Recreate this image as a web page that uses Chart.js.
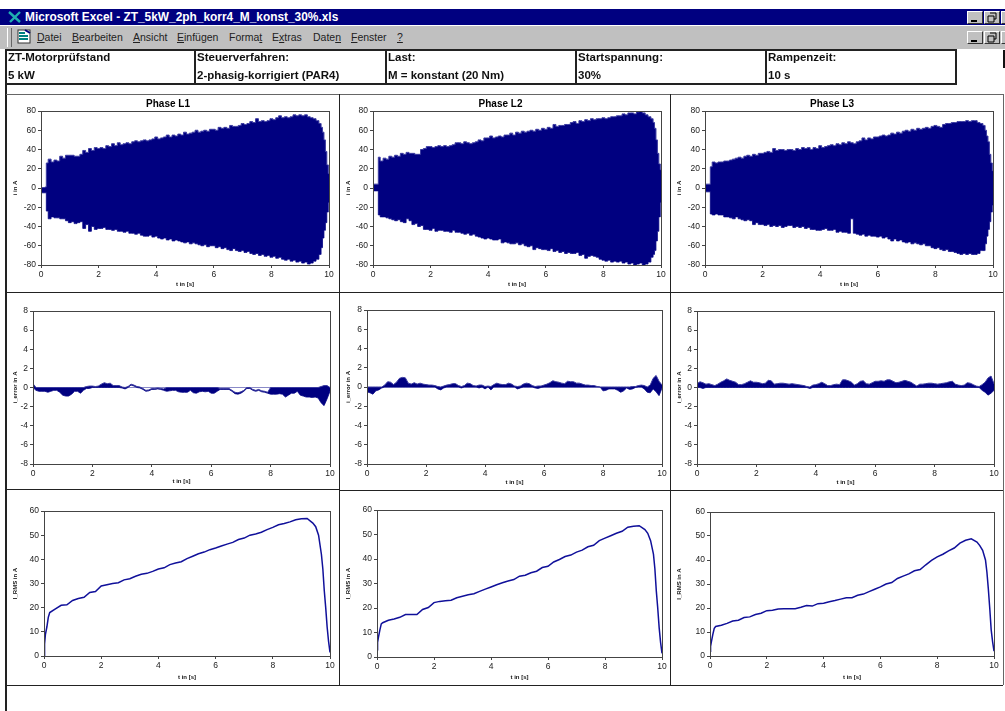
<!DOCTYPE html>
<html lang="de">
<head>
<meta charset="utf-8">
<title>ZT_5kW_2ph_korr4_M_konst_30%</title>
<script src="https://cdn.jsdelivr.net/npm/chart.js@4/dist/chart.umd.min.js"></script>
<style>
  html, body { margin:0; padding:0; background:#fff; width:1005px; height:711px; overflow:hidden; }
  #page { position:absolute; left:0; top:0; width:1005px; height:711px; overflow:hidden; font-family:"Liberation Sans", Arial, sans-serif; filter:blur(0.35px); }
  #page > * { position:absolute; }
  #titlebar { left:0; top:9px; width:1005px; height:16px; background:#000080; color:#fff; font-weight:bold; font-size:11.9px; line-height:16px; white-space:nowrap; }
  #titlebar span { position:absolute; left:25px; top:0; }
  #menubar { left:0; top:26px; width:1005px; height:23px; background:#c0c0c0; }
  #menubar span { position:absolute; top:5px; font-size:10.5px; line-height:13px; color:#222; }
  .grip { left:7px; top:28px; width:3px; height:19px; border-left:1px solid #fff; border-right:1px solid #666; }
  .btn { width:16px; height:13px; background:#c0c0c0; border:1px solid; border-color:#fff #333 #333 #fff; box-sizing:border-box; }
  .btn svg { position:absolute; left:0; top:0; }
  .cell { top:49px; height:36px; border:2px solid #222; border-left-width:1px; box-sizing:border-box; background:#fff; font-weight:bold; font-size:11.5px; color:#111; white-space:nowrap; }
  .cell div { position:absolute; left:1px; }
  .cell .a { top:0; }
  .cell .b { top:18px; }
  .ln { background:#222; }
  canvas { position:absolute; display:block; }
</style>
</head>
<body>
<div id="page">
  <div id="titlebar">
    <svg width="18" height="16" style="position:absolute;left:7px;top:0"><path d="M2 3 L13 13 M13 3 L3 13" stroke="#20b0b0" stroke-width="2.4"/></svg>
    <span>Microsoft Excel - ZT_5kW_2ph_korr4_M_konst_30%.xls</span>
  </div>
  <div class="btn" style="left:967px;top:11px"><svg width="14" height="11"><path d="M3 9h6" stroke="#000" stroke-width="2"/></svg></div>
  <div class="btn" style="left:984px;top:11px"><svg width="14" height="11"><path d="M5 1h6v6h-2M3 4h6v6h-6z" fill="none" stroke="#000"/></svg></div>
  <div class="btn" style="left:1001px;top:11px"></div>
  <div id="menubar">
    <svg width="18" height="18" style="position:absolute;left:16px;top:2px"><rect x="2" y="2" width="12" height="13" fill="#fff" stroke="#333"/><path d="M3 5h6M3 8h9M3 11h9" stroke="#008080" stroke-width="2"/><path d="M9 2l5 3" stroke="#000080" stroke-width="2"/></svg>
    <span style="left:37px"><u>D</u>atei</span>
    <span style="left:72px"><u>B</u>earbeiten</span>
    <span style="left:133px"><u>A</u>nsicht</span>
    <span style="left:177px"><u>E</u>inf&uuml;gen</span>
    <span style="left:229px">Forma<u>t</u></span>
    <span style="left:272px">E<u>x</u>tras</span>
    <span style="left:313px">Date<u>n</u></span>
    <span style="left:351px"><u>F</u>enster</span>
    <span style="left:397px"><u>?</u></span>
  </div>
  <div class="grip"></div>
  <div class="btn" style="left:967px;top:31px"><svg width="14" height="11"><path d="M3 9h6" stroke="#000" stroke-width="2"/></svg></div>
  <div class="btn" style="left:984px;top:31px"><svg width="14" height="11"><path d="M5 1h6v6h-2M3 4h6v6h-6z" fill="none" stroke="#000"/></svg></div>
  <div class="btn" style="left:1001px;top:31px"></div>

  <div class="cell" style="left:6px;width:190px"><div class="a">ZT-Motorpr&uuml;fstand</div><div class="b">5 kW</div></div>
  <div class="cell" style="left:195px;width:192px"><div class="a">Steuerverfahren:</div><div class="b">2-phasig-korrigiert (PAR4)</div></div>
  <div class="cell" style="left:386px;width:191px"><div class="a">Last:</div><div class="b">M = konstant (20 Nm)</div></div>
  <div class="cell" style="left:576px;width:191px"><div class="a">Startspannung:</div><div class="b">30%</div></div>
  <div class="cell" style="left:766px;width:191px"><div class="a">Rampenzeit:</div><div class="b">10 s</div></div>
  <div style="left:1003px;top:50px;width:2px;height:18px;background:#111"></div>

  <div class="ln" style="left:5px;top:49px;width:2px;height:662px"></div>
  <div class="ln" style="left:6px;top:94px;width:997px;height:1px;background:#666"></div>
  <div class="ln" style="left:6px;top:292px;width:997px;height:1px"></div>
  <div class="ln" style="left:6px;top:489px;width:334px;height:1px"></div>
  <div class="ln" style="left:339px;top:490px;width:664px;height:1px"></div>
  <div class="ln" style="left:6px;top:685px;width:997px;height:1px"></div>
  <div class="ln" style="left:339px;top:94px;width:1px;height:591px"></div>
  <div class="ln" style="left:670px;top:94px;width:1px;height:591px"></div>
  <div class="ln" style="left:1003px;top:94px;width:1px;height:591px;background:#666"></div>
</div>

<script>
// Envelope of the phase currents
const timeBand = [
  0, 0.1, 0.17,
  0.2, 0.3, 0.4, 0.5, 0.6, 0.7, 0.8, 0.9,
  1.0, 1.1, 1.2, 1.3, 1.4, 1.5, 1.6, 1.7, 1.8, 1.9,
  2.0, 2.1, 2.2, 2.3, 2.4, 2.5, 2.6, 2.7, 2.8, 2.9,
  3.0, 3.1, 3.2, 3.3, 3.4, 3.5, 3.6, 3.7, 3.8, 3.9,
  4.0, 4.1, 4.2, 4.3, 4.4, 4.5, 4.6, 4.7, 4.8, 4.9,
  5.0, 5.1, 5.2, 5.3, 5.4, 5.5, 5.6, 5.7, 5.8, 5.9,
  6.0, 6.1, 6.2, 6.3, 6.4, 6.5, 6.6, 6.7, 6.8, 6.9,
  7.0, 7.1, 7.2, 7.3, 7.4, 7.5, 7.6, 7.7, 7.8, 7.9,
  8.0, 8.1, 8.2, 8.3, 8.4, 8.5, 8.6, 8.7, 8.8, 8.9,
  9.0, 9.1, 9.2, 9.3, 9.4, 9.5, 9.6, 9.7,
  9.75, 9.8, 9.85, 9.9, 9.95, 10
];
const l1Upper = [
  0.5, 0.5, 1,
  26, 30, 27, 29, 28, 33, 31, 34,
  34, 34, 33, 33, 35, 39, 37, 41, 39, 42,
  41, 42, 41, 44, 43, 46, 44, 47, 45, 46,
  47, 46, 48, 49, 48, 49, 50, 49, 50, 51,
  53, 51, 52, 53, 55, 53, 55, 54, 56, 55,
  58, 56, 57, 58, 60, 58, 59, 60, 59, 61,
  61, 60, 63, 62, 63, 62, 65, 64, 64, 65,
  67, 66, 67, 69, 68, 72, 69, 70, 69, 70,
  72, 71, 73, 75, 73, 74, 73, 74, 76, 75,
  76, 75, 76, 74, 73, 72, 70, 67,
  63, 58, 50, 38, 24, 15
];
const l1Lower = [
  -5, -5, -5,
  -24, -32, -30, -31, -31, -32, -32, -34,
  -36, -35, -37, -36, -35, -42, -38, -45, -40, -43,
  -42, -42, -41, -43, -43, -44, -43, -45, -45, -46,
  -45, -47, -47, -48, -47, -49, -50, -50, -49, -51,
  -50, -52, -53, -52, -54, -53, -55, -54, -55, -56,
  -57, -56, -58, -57, -58, -59, -60, -59, -61, -60,
  -60, -62, -61, -63, -62, -64, -65, -63, -65, -66,
  -65, -67, -66, -68, -69, -68, -70, -69, -71, -70,
  -72, -71, -73, -72, -74, -75, -74, -76, -75, -77,
  -76, -78, -77, -79, -78, -76, -74, -69,
  -62, -52, -44, -36, -25, -15
];
const l2Upper = [
  4, 4, 4,
  32, 28, 31, 30, 33, 32, 34, 33,
  36, 35, 37, 36, 36, 35, 35, 40, 41, 43,
  43, 42, 43, 44, 43, 44, 43, 44, 45, 47,
  47, 46, 48, 47, 46, 47, 48, 50, 49, 52,
  52, 54, 52, 53, 54, 53, 55, 55, 57, 55,
  58, 57, 59, 58, 59, 60, 59, 61, 60, 62,
  61, 63, 62, 66, 64, 65, 65, 66, 66, 68,
  69, 67, 70, 69, 71, 70, 72, 71, 72, 72,
  73, 72, 73, 74, 74, 75, 75, 77, 76, 78,
  78, 77, 79, 80, 78, 76, 74, 72,
  68, 62, 50, 36, 25, 19
];
const l2Lower = [
  -3, -3, -3,
  -28, -30, -30, -31, -32, -33, -34, -33,
  -35, -36, -32, -34, -38, -37, -40, -39, -43, -43,
  -44, -42, -45, -44, -44, -45, -45, -46, -44, -46,
  -46, -47, -48, -47, -49, -48, -50, -51, -52, -53,
  -52, -53, -54, -54, -53, -57, -56, -57, -58, -58,
  -57, -59, -58, -60, -61, -60, -64, -62, -63, -64,
  -64, -65, -63, -66, -65, -67, -66, -68, -67, -68,
  -68, -67, -70, -69, -73, -71, -70, -71, -72, -74,
  -75, -76, -75, -77, -76, -77, -76, -78, -77, -79,
  -78, -80, -79, -78, -80, -79, -77, -72,
  -69, -65, -55, -45, -30, -15
];
const l3Upper = [
  4, 4, 4,
  22, 27, 26, 27, 27, 28, 28, 29,
  30, 31, 32, 31, 33, 34, 33, 35, 34, 36,
  36, 37, 38, 37, 41, 39, 40, 40, 39, 40,
  40, 39, 41, 40, 42, 41, 42, 40, 42, 41,
  44, 42, 43, 44, 45, 44, 46, 45, 47, 46,
  48, 47, 46, 48, 49, 52, 50, 52, 51, 53,
  53, 54, 55, 54, 55, 57, 56, 58, 57, 59,
  60, 59, 61, 60, 62, 61, 62, 63, 62, 64,
  65, 64, 63, 66, 67, 67, 68, 68, 69, 69,
  69, 70, 69, 70, 70, 68, 67, 65,
  60, 54, 48, 35, 26, 18
];
const l3Lower = [
  -4, -4, -4,
  -27, -28, -27, -28, -28, -30, -30, -31,
  -32, -30, -32, -33, -34, -33, -34, -38, -36, -38,
  -38, -39, -38, -40, -39, -40, -39, -41, -40, -39,
  -39, -41, -40, -41, -40, -42, -41, -43, -43, -44,
  -44, -43, -42, -44, -44, -43, -46, -45, -46, -46,
  -47, -32, -47, -48, -49, -48, -50, -49, -50, -50,
  -51, -50, -52, -51, -53, -55, -53, -55, -54, -56,
  -57, -56, -58, -57, -58, -59, -58, -60, -60, -62,
  -63, -62, -64, -65, -64, -66, -66, -67, -68, -69,
  -68, -69, -68, -69, -69, -68, -65, -65,
  -58, -50, -43, -35, -25, -18
];

// Middle row, band around zero
const timeMid = [
  0, 0.1, 0.2, 0.3, 0.4, 0.5, 0.6, 0.7, 0.8, 0.9,
  1.0, 1.1, 1.2, 1.3, 1.4, 1.5, 1.6, 1.7, 1.8, 1.9,
  2.0, 2.1, 2.2, 2.3, 2.4, 2.5, 2.6, 2.7, 2.8, 2.9,
  3.0, 3.1, 3.2, 3.3, 3.4, 3.5, 3.6, 3.7, 3.8, 3.9,
  4.0, 4.1, 4.2, 4.3, 4.4, 4.5, 4.6, 4.7, 4.8, 4.9,
  5.0, 5.1, 5.2, 5.3, 5.4, 5.5, 5.6, 5.7, 5.8, 5.9,
  6.0, 6.1, 6.2, 6.3, 6.4, 6.5, 6.6, 6.7, 6.8, 6.9,
  7.0, 7.1, 7.2, 7.3, 7.4, 7.5, 7.6, 7.7, 7.8, 7.9,
  8.0, 8.1, 8.2, 8.3, 8.4, 8.5, 8.6, 8.7, 8.8, 8.9,
  9.0, 9.1, 9.2, 9.3, 9.4, 9.5, 9.6, 9.7, 9.8, 9.9,
  10
];
const l1MidUpper = [
  0.4, 0, 0, 0, 0, 0, 0, 0, 0, 0,
  0, 0, 0, 0, 0, 0, 0, 0, 0.1, 0.15,
  0.15, 0.1, 0.15, 0.35, 0.5, 0.4, 0.45, 0.2, 0.2, 0.2,
  0.05, 0, 0.1, 0.35, 0.25, 0.1, 0.05, -0.1, -0.3, -0.25,
  -0.1, -0.1, -0.05, -0.1, -0.15, 0, 0, 0, 0, 0,
  0, 0, 0, 0, 0, 0, 0, 0, 0, 0,
  0, 0, 0, -0.1, -0.1, -0.1, -0.1, -0.3, -0.5, -0.55,
  -0.45, -0.3, 0, 0, -0.2, -0.3, -0.2, -0.35, -0.4, -0.5,
  0, 0, 0, 0, 0, 0, 0, 0, 0, 0,
  0, 0, 0, 0, 0, 0, 0, 0.1, 0.2, 0.2,
  0
];
const l1MidLower = [
  0, -0.3, -0.4, -0.4, -0.4, -0.5, -0.4, -0.3, -0.3, -0.5,
  -0.8, -0.9, -0.9, -0.7, -0.4, -0.4, -0.6, -0.3, -0.1, -0.1,
  0, 0, 0, 0, 0, 0, 0, 0, 0, 0,
  -0.05, -0.15, 0, 0.25, 0.15, 0, -0.05, -0.2, -0.4, -0.35,
  -0.2, -0.2, -0.15, -0.2, -0.3, -0.4, -0.35, -0.3, -0.3, -0.45,
  -0.5, -0.5, -0.5, -0.3, -0.55, -0.6, -0.45, -0.4, -0.45, -0.4,
  -0.6, -0.6, -0.4, -0.2, -0.2, -0.2, -0.2, -0.4, -0.65, -0.7,
  -0.6, -0.4, -0.1, -0.1, -0.3, -0.4, -0.3, -0.45, -0.5, -0.6,
  -0.7, -0.7, -0.7, -0.65, -0.7, -1, -0.8, -0.6, -0.6, -0.4,
  -0.8, -0.9, -1, -1, -1.05, -1, -1.1, -1.6, -1.9, -1.2,
  -0.4
];
const l2MidUpper = [
  0, 0, 0, 0, 0, 0, 0.2, 0.55, 0.5, 0.25,
  0.5, 0.9, 1, 0.95, 0.4, 0.3, 0.45, 0.3, 0.4, 0.3,
  0.25, 0.2, 0.2, 0.15, 0.05, 0, 0.1, 0.2, 0.25, 0.35,
  0.35, 0.15, 0.05, 0.15, 0.4, 0.35, 0.15, 0.1, 0.2, 0.2,
  0.05, 0.1, 0.05, 0.25, 0.4, 0.3, 0.25, 0.25, 0.4, 0.3,
  0.1, 0.05, 0.1, 0.3, 0.4, 0.35, 0.15, 0.05, 0.1, 0.1,
  0.2, 0.3, 0.45, 0.65, 0.55, 0.5, 0.4, 0.35, 0.6, 0.55,
  0.55, 0.4, 0.4, 0.3, 0.2, 0.2, 0.15, 0.15, 0.05, 0,
  0, 0, 0, 0, 0, 0, 0, 0, 0, 0,
  0.05, 0.05, 0.15, 0.2, 0.15, 0, 0.2, 0.9, 1.2, 0.6,
  0.2
];
const l2MidLower = [
  -0.5, -0.6, -0.75, -0.4, -0.3, -0.1, 0, 0, 0, 0,
  0, 0, 0, 0, 0, 0, 0, 0, 0, 0,
  0, 0, 0, 0, -0.2, -0.3, -0.1, 0, 0, 0,
  0, 0, -0.1, 0, 0, 0, 0, 0, -0.1, 0,
  -0.2, 0, -0.3, 0, 0, 0, 0, 0, 0, 0,
  0, -0.2, -0.1, 0, 0, 0, 0, -0.1, -0.15, -0.05,
  0, 0, 0, 0, 0, 0, 0, 0, 0, 0,
  0, 0, 0, 0, 0, 0, 0, 0, 0, 0,
  -0.4, -0.35, -0.2, -0.2, -0.2, -0.35, -0.55, -0.4, -0.1, -0.25,
  -0.2, -0.05, 0, 0, -0.2, -0.55, -0.6, -0.2, -0.5, -0.9,
  -0.1
];
const l3MidUpper = [
  0.4, 0.6, 0.5, 0.35, 0.4, 0.3, 0.2, 0.35, 0.55, 0.7,
  0.9, 0.75, 0.65, 0.55, 0.3, 0.3, 0.4, 0.55, 0.7, 0.55,
  0.55, 0.5, 0.4, 0.45, 0.75, 0.7, 0.35, 0.4, 0.45, 0.45,
  0.4, 0.35, 0.4, 0.35, 0.3, 0.25, 0.2, 0.1, 0.05, 0.25,
  0.3, 0.4, 0.55, 0.4, 0.2, 0.2, 0.3, 0.35, 0.3, 0.8,
  0.8, 0.7, 0.55, 0.25, 0.4, 0.65, 0.7, 0.4, 0.35, 0.5,
  0.65, 0.65, 0.7, 0.65, 0.8, 0.8, 0.65, 0.5, 0.55, 0.65,
  0.75, 0.65, 0.55, 0.35, 0.15, 0.35, 0.35, 0.4, 0.45, 0.45,
  0.4, 0.35, 0.4, 0.45, 0.5, 0.6, 0.65, 0.35, 0.25, 0.2,
  0.25, 0.5, 0.45, 0.3, 0.15, 0.1, 0.3, 0.55, 1.0, 1.2,
  0.4
];
const l3MidLower = [
  0, 0, -0.1, 0, 0, 0, 0, 0, 0, 0,
  0, 0, 0, 0, 0, 0, 0, 0, 0, 0,
  0, 0, 0, 0, 0, 0, 0, 0, 0, 0,
  0, 0, 0, 0, 0, 0, 0, 0, -0.1, 0,
  0, 0, 0, 0, 0, 0, 0, 0, 0, 0,
  0, 0, 0, 0, 0, 0, 0, 0, 0, 0,
  0, 0, 0, 0, 0, 0, 0, 0, 0, 0,
  0, 0, 0, 0, 0, 0, 0, 0, 0, 0,
  0, 0, 0, 0, 0, 0, 0, 0, 0, 0,
  0, 0, 0, 0, 0, 0, -0.3, -0.5, -0.8, -0.6,
  -0.3
];

// RMS currents
const timeRms = [
  0, 0.02, 0.05, 0.1, 0.15, 0.2, 0.4, 0.6, 0.8,
  1.0, 1.2, 1.4, 1.6, 1.8, 2.0, 2.2, 2.4, 2.6, 2.8,
  3.0, 3.2, 3.4, 3.6, 3.8, 4.0, 4.2, 4.4, 4.6, 4.8,
  5.0, 5.2, 5.4, 5.6, 5.8, 6.0, 6.2, 6.4, 6.6, 6.8,
  7.0, 7.2, 7.4, 7.6, 7.8, 8.0, 8.2, 8.4, 8.6, 8.8,
  9.0, 9.2, 9.4, 9.5, 9.6, 9.7, 9.75, 9.8, 9.85, 9.9, 9.95, 10
];
const l1Rms = [
  0, 5, 9, 12, 16, 18, 19.5, 21, 21.2,
  23, 23.8, 24.3, 26.3, 26.7, 29, 29.5, 30, 30.3, 31.5,
  32, 33, 33.8, 34.2, 35, 36, 36.5, 37.8, 38.5, 39,
  40.3, 41.3, 42.3, 43, 44, 44.7, 45.5, 46.3, 47, 48.2,
  48.8, 50, 50.5, 51.2, 52.3, 53.2, 54.3, 54.8, 55.5, 56.4,
  56.8, 56.9, 55, 53.5, 50, 42, 36, 27, 20, 12, 6, 1.5
];
const l2Rms = [
  3, 6, 8, 11, 13.5, 14, 15, 15.5, 16.2,
  17.3, 17.3, 17.3, 19.4, 20.2, 22.2, 22.7, 23, 23.2, 24.2,
  24.8, 25.4, 25.8, 26.8, 27.7, 28.6, 29.5, 30.3, 31, 31.6,
  33, 33.4, 34.4, 35, 36.5, 37, 38.8, 39.8, 41, 41.6,
  42.8, 43.6, 45, 45.6, 47.5, 48.5, 49.5, 50.5, 51.3, 53,
  53.4, 53.6, 52, 50.5, 47.5, 42, 36, 27, 20, 12, 6, 1.5
];
const l3Rms = [
  2, 4, 6, 9, 11.5, 12.3, 12.8, 13.6, 14.6,
  14.9, 16, 16.3, 17.3, 17.8, 18.9, 19.1, 19.6, 19.7, 19.7,
  19.7, 20.3, 21, 20.8, 21.8, 22, 22.6, 23.1, 23.7, 24.3,
  24.3, 25.3, 25.8, 26.8, 27.8, 28.8, 30, 30.6, 32.3, 33.3,
  34.2, 35.5, 36, 38, 39.8, 41.3, 42.4, 43.8, 45, 47,
  48.2, 48.8, 47.5, 46, 44, 40, 35, 28, 20, 11, 6, 2
];

const phaseTitles = ['Phase L1', 'Phase L2', 'Phase L3'];
const xTitle = 't in [s]';
const yTitleTop = 'i in A';
const yTitleMid = 'i_error in A';
const yTitleRms = 'I_RMS in A';

const NAVY = '#000080';
const FONT = '"Liberation Sans", Arial, sans-serif';

// frame around the plot area, excel draws all four sides
const framePlugin = {
  id: 'frame',
  afterDatasetsDraw(chart){
    const a = chart.chartArea, c = chart.ctx;
    c.save();
    c.strokeStyle = '#444';
    c.lineWidth = 1;
    c.strokeRect(Math.round(a.left) + 0.5, Math.round(a.top) + 0.5, Math.round(a.width), Math.round(a.height));
    c.restore();
  }
};

function pts(xs, ys){ return xs.map((x, i) => ({ x: x, y: ys[i] })); }

function makeChart(cell, plot, cfg){
  const cv = document.createElement('canvas');
  cv.width = cell.w; cv.height = cell.h;
  cv.style.left = cell.x + 'px'; cv.style.top = cell.y + 'px';
  cv.style.width = cell.w + 'px'; cv.style.height = cell.h + 'px';
  document.getElementById('page').appendChild(cv);
  const axisTitle = { family: FONT, size: 6, weight: 'bold' };
  new Chart(cv, {
    type: 'line',
    data: { datasets: cfg.datasets },
    plugins: [framePlugin],
    options: {
      responsive: false, animation: false,
      layout: { padding: { left: 0, bottom: 0, right: cell.x + cell.w - plot.right, top: cfg.title ? 0 : plot.top - cell.y } },
      plugins: {
        legend: { display: false }, tooltip: { enabled: false },
        title: { display: !!cfg.title, text: cfg.title, color: '#000', font: { family: FONT, size: 10, weight: 'bold', lineHeight: 1.2 }, padding: { top: 3, bottom: plot.top - cell.y - 15 } }
      },
      scales: {
        x: {
          type: 'linear', min: 0, max: 10,
          afterFit(s){ s.height = cell.y + cell.h - plot.bottom; },
          border: { color: '#444' },
          grid: { drawOnChartArea: false, tickLength: 3, tickColor: '#444' },
          ticks: { stepSize: 2, maxRotation: 0, padding: 2, color: '#222', font: { family: FONT, size: 8.5 } },
          title: { display: true, text: xTitle, color: '#111', font: axisTitle, padding: { top: 0, bottom: 4 } }
        },
        y: {
          min: cfg.min, max: cfg.max,
          afterFit(s){ s.width = plot.left - cell.x; },
          border: { color: '#444' },
          grid: {
            drawOnChartArea: !!cfg.zeroLine, tickLength: 3, tickColor: '#444',
            color: c => (cfg.zeroLine && c.tick.value === 0) ? '#8a8ac8' : 'rgba(0,0,0,0)'
          },
          ticks: { stepSize: cfg.step, padding: 2, color: '#222', font: { family: FONT, size: 8.5 } },
          title: { display: true, text: cfg.yTitle, color: '#111', font: axisTitle, padding: { top: 5, bottom: 0 } }
        }
      }
    }
  });
}

function bandSets(xs, upper, lower, stepped){
  return [
    { data: pts(xs, upper), borderColor: '#3a3aa0', borderWidth: 1, backgroundColor: NAVY, fill: '+1', pointRadius: 0, tension: 0, stepped: stepped },
    { data: pts(xs, lower), borderColor: '#3a3aa0', borderWidth: 1, pointRadius: 0, tension: 0, fill: false, stepped: stepped }
  ];
}
function lineSet(xs, ys){
  return [{ data: pts(xs, ys), borderColor: '#10109a', borderWidth: 1.5, pointRadius: 0, tension: 0, fill: false }];
}

const cellsTop = [{ x: 7, y: 95, w: 332, h: 197 }, { x: 340, y: 95, w: 330, h: 197 }, { x: 671, y: 95, w: 332, h: 197 }];
const cellsMid = [{ x: 7, y: 293, w: 332, h: 196 }, { x: 340, y: 293, w: 330, h: 197 }, { x: 671, y: 293, w: 332, h: 197 }];
const cellsRms = [{ x: 7, y: 490, w: 332, h: 195 }, { x: 340, y: 491, w: 330, h: 194 }, { x: 671, y: 491, w: 332, h: 194 }];
const plotsTop = [{ left: 41, top: 111, right: 329, bottom: 265 }, { left: 373, top: 111, right: 661, bottom: 265 }, { left: 705, top: 111, right: 993, bottom: 265 }];
const plotsMid = [{ left: 33, top: 311, right: 330, bottom: 464 }, { left: 367, top: 310, right: 662, bottom: 464 }, { left: 697, top: 311, right: 994, bottom: 464 }];
const plotsRms = [{ left: 44, top: 511, right: 330, bottom: 656 }, { left: 377, top: 510, right: 662, bottom: 657 }, { left: 710, top: 512, right: 994, bottom: 656 }];

const uppers = [l1Upper, l2Upper, l3Upper], lowers = [l1Lower, l2Lower, l3Lower];
const midUppers = [l1MidUpper, l2MidUpper, l3MidUpper], midLowers = [l1MidLower, l2MidLower, l3MidLower];
const rmsSeries = [l1Rms, l2Rms, l3Rms];

for (let i = 0; i < 3; i++) {
  makeChart(cellsTop[i], plotsTop[i], { title: phaseTitles[i], min: -80, max: 80, step: 20, yTitle: yTitleTop, datasets: bandSets(timeBand, uppers[i], lowers[i], 'middle') });
  makeChart(cellsMid[i], plotsMid[i], { min: -8, max: 8, step: 2, yTitle: yTitleMid, zeroLine: true, datasets: bandSets(timeMid, midUppers[i], midLowers[i], false) });
  makeChart(cellsRms[i], plotsRms[i], { min: 0, max: 60, step: 10, yTitle: yTitleRms, datasets: lineSet(timeRms, rmsSeries[i]) });
}
</script>
</body>
</html>
